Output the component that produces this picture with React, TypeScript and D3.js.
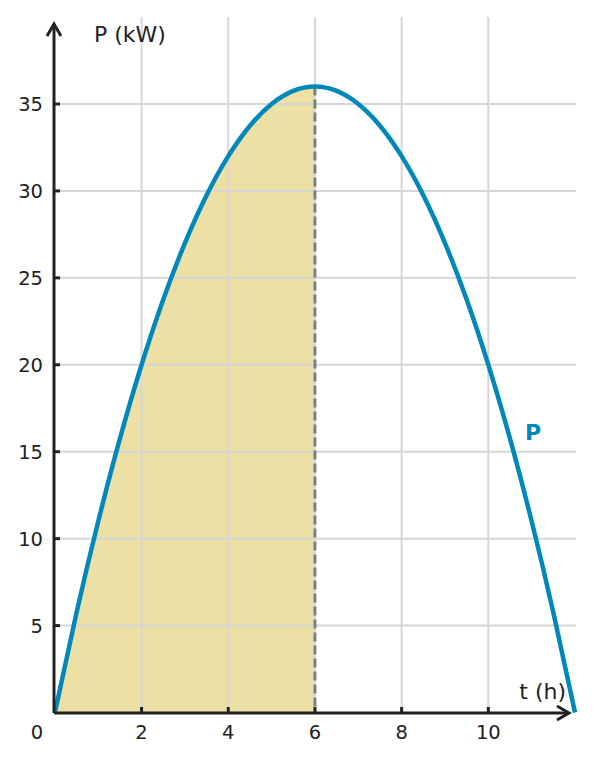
import React from "react";
import * as d3 from "d3";

const tValues = [0, 0.5, 1, 1.5, 2, 2.5, 3, 3.5, 4, 4.5, 5, 5.5, 6, 6.5, 7, 7.5, 8, 8.5, 9, 9.5, 10, 10.5, 11, 11.5, 12];
const pValues = [0, 5.75, 11, 15.75, 20, 23.75, 27, 29.75, 32, 33.75, 35, 35.75, 36, 35.75, 35, 33.75, 32, 29.75, 27, 23.75, 20, 15.75, 11, 5.75, 0];
const xTicks = [2, 4, 6, 8, 10];
const yTicks = [5, 10, 15, 20, 25, 30, 35];
const shadeEnd = 6;
const seriesLabel = "P";
const xTitle = "t (h)";
const yTitle = "P (kW)";

const W = 593;
const H = 761;
const FONT = "DejaVu Sans, sans-serif";

export default function App() {
  const x = d3.scaleLinear().domain([0, 12]).range([54.9, 575]);
  const y = d3.scaleLinear().domain([0, 35]).range([712.5, 104]);
  const pts = tValues.map((t, i) => [t, pValues[i]] as [number, number]);
  const line = d3
    .line<[number, number]>()
    .x((d) => x(d[0]))
    .y((d) => y(d[1]))
    .curve(d3.curveNatural);
  const area = d3
    .area<[number, number]>()
    .x((d) => x(d[0]))
    .y0(y(0))
    .y1((d) => y(d[1]))
    .curve(d3.curveNatural);
  const shaded = pts.filter((d) => d[0] <= shadeEnd);
  const axisColor = "#222";
  const gridColor = "#d6d6d6";
  const blue = "#0088bb";
  return (
    <svg width={W} height={H} style={{ position: "absolute", left: 0, top: 0 }} fontFamily={FONT}>
      <rect width={W} height={H} fill="#fff" />
      <path d={area(shaded) || ""} fill="#ece0a5" />
      {xTicks.map((t) => (
        <line key={"gx" + t} x1={x(t)} x2={x(t)} y1={17} y2={y(0)} stroke={gridColor} strokeWidth={2} />
      ))}
      {yTicks.map((v) => (
        <line key={"gy" + v} x1={x(0)} x2={576} y1={y(v)} y2={y(v)} stroke={gridColor} strokeWidth={2} />
      ))}
      <line x1={x(shadeEnd)} x2={x(shadeEnd)} y1={y(36)} y2={y(0)} stroke="#7a8288" strokeWidth={3} strokeDasharray="9,4" />
      <path d={line(pts) || ""} fill="none" stroke={blue} strokeWidth={4.5} />
      <line x1={54} x2={54} y1={713} y2={24} stroke={axisColor} strokeWidth={3} />
      <path d="M47,36 L54,24 L61,36" fill="none" stroke={axisColor} strokeWidth={3} />
      <line x1={54} x2={568} y1={713} y2={713} stroke={axisColor} strokeWidth={3} />
      <path d="M557,706 L569,713 L557,720" fill="none" stroke={axisColor} strokeWidth={3} />
      {xTicks.map((t) => (
        <g key={"xt" + t}>
          <line x1={x(t)} x2={x(t)} y1={713} y2={707} stroke={axisColor} strokeWidth={3} />
          <text x={x(t)} y={739} textAnchor="middle" fontSize={19.5} fill={axisColor}>
            {t}
          </text>
        </g>
      ))}
      {yTicks.map((v) => (
        <g key={"yt" + v}>
          <line x1={54} x2={60} y1={y(v)} y2={y(v)} stroke={axisColor} strokeWidth={3} />
          <text x={43} y={y(v) + 7} textAnchor="end" fontSize={19.5} fill={axisColor}>
            {v}
          </text>
        </g>
      ))}
      <text x={37} y={739} textAnchor="middle" fontSize={19.5} fill={axisColor}>0</text>
      <text x={94} y={42} fontSize={22} fill={axisColor}>{yTitle}</text>
      <text x={566} y={699} textAnchor="end" fontSize={22} fill={axisColor}>{xTitle}</text>
      <text x={525} y={440} fontSize={22} fontWeight="bold" fill={blue}>{seriesLabel}</text>
    </svg>
  );
}
